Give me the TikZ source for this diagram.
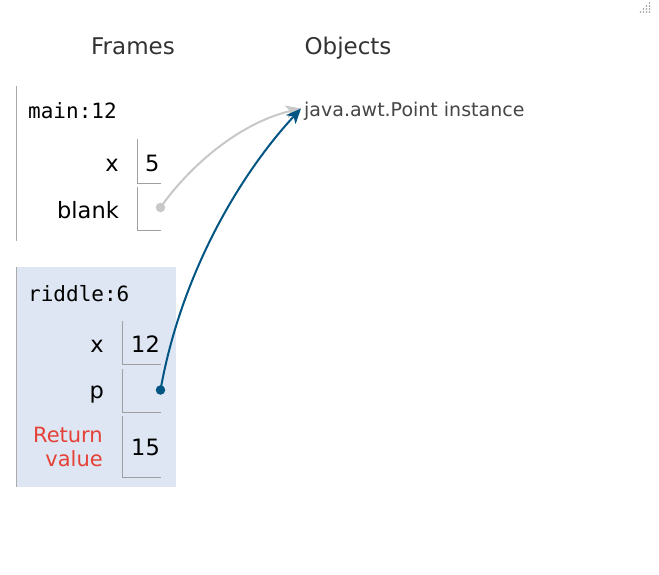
\documentclass[tikz,border=0pt]{standalone}
\usepackage{fontspec}
\setmainfont{DejaVu Sans}
\newfontfamily\monof{DejaVu Sans Mono}
\usetikzlibrary{arrows.meta}
\definecolor{hdr}{RGB}{51,51,51}
\definecolor{objtxt}{RGB}{70,70,70}
\definecolor{framebg}{RGB}{221,230,242}
\definecolor{frameline}{RGB}{170,170,170}
\definecolor{cellline}{RGB}{160,160,160}
\definecolor{ptrblue}{RGB}{0,85,131}
\definecolor{ptrgray}{RGB}{200,200,200}
\definecolor{retred}{RGB}{230,65,55}
\tikzset{
  txt/.style={inner sep=0pt, font=\fontsize{22.5}{26}\selectfont},
  hdrtxt/.style={inner sep=0pt, font=\fontsize{23}{26}\selectfont, text=hdr, anchor=base},
  frametitle/.style={inner sep=0pt, font=\monof\fontsize{21}{24}\selectfont, anchor=base west},
  varname/.style={txt, anchor=base east},
  rettxt/.style={inner sep=0pt, font=\fontsize{21}{24}\selectfont, anchor=base east, text=retred},
  val/.style={txt, anchor=base west},
  cell/.style={draw=cellline, line width=0.9pt},
  ptrdot/.style={circle, inner sep=0pt, minimum size=9.5pt},
  ptr/.style={line width=2pt, -{Stealth[length=15pt,width=13pt,inset=4pt]}},
}
\begin{document}
\begin{tikzpicture}[x=1pt,y=-1pt]
\useasboundingbox (0,0) rectangle (659,574);
\fill[white] (0,0) rectangle (659,574);
% resize grip
\foreach \i in {0,...,3} {
  \foreach \j in {0,...,\i} {
    \fill[gray!80] ({649.5-3*\j},{3+3*\i}) circle (0.8pt);
  }
}
% headers
\node[hdrtxt] (hframes) at (133,54) {Frames};
\node[hdrtxt] (hobjects) at (348,54) {Objects};
% main frame
\draw[frameline, line width=1pt] (16,86) -- (16,241);
\node[frametitle] (mainttl) at (28,118) {main:12};
\node[varname] (mx) at (119,171) {x};
\draw[cell] (137,139) -- (137,183) -- (161,183);
\node[val] (mxv) at (145,171) {5};
\node[varname] (mblank) at (119,218) {blank};
\draw[cell] (137,187) -- (137,230) -- (161,230);
% riddle frame
\fill[framebg] (16,267) rectangle (176,487);
\draw[frameline, line width=1pt] (16,267) -- (16,487);
\node[frametitle] (ridttl) at (28,301) {riddle:6};
\node[varname] (rx) at (104,352) {x};
\draw[cell] (122.7,321) -- (122.7,364) -- (161,364);
\node[val] (rxv) at (131,352) {12};
\node[varname] (rp) at (104,398) {p};
\draw[cell] (122.7,369) -- (122.7,412) -- (161,412);
\node[rettxt] (rret1) at (103,442) {Return};
\node[rettxt] (rret2) at (103,466) {value};
\draw[cell] (122.7,416) -- (122.7,477) -- (161,477);
\node[val] (rretv) at (131,455) {15};
% object
\node[inner sep=0pt, font=\fontsize{19}{22}\selectfont, text=objtxt, anchor=base west] (obj) at (304,116) {java.awt.Point instance};
\coordinate (objin) at (301,108.5);
% pointers
\node[ptrdot, fill=ptrgray] (blankdot) at (160.5,207.5) {};
\node[ptrdot, fill=ptrblue] (pdot) at (160.5,390) {};
\draw[ptr, ptrgray] (blankdot.center) .. controls (185,172) and (235,124) .. (objin);
\draw[ptr, ptrblue] (pdot.center) .. controls (180,280) and (235,180) .. (objin);
\end{tikzpicture}
\end{document}
